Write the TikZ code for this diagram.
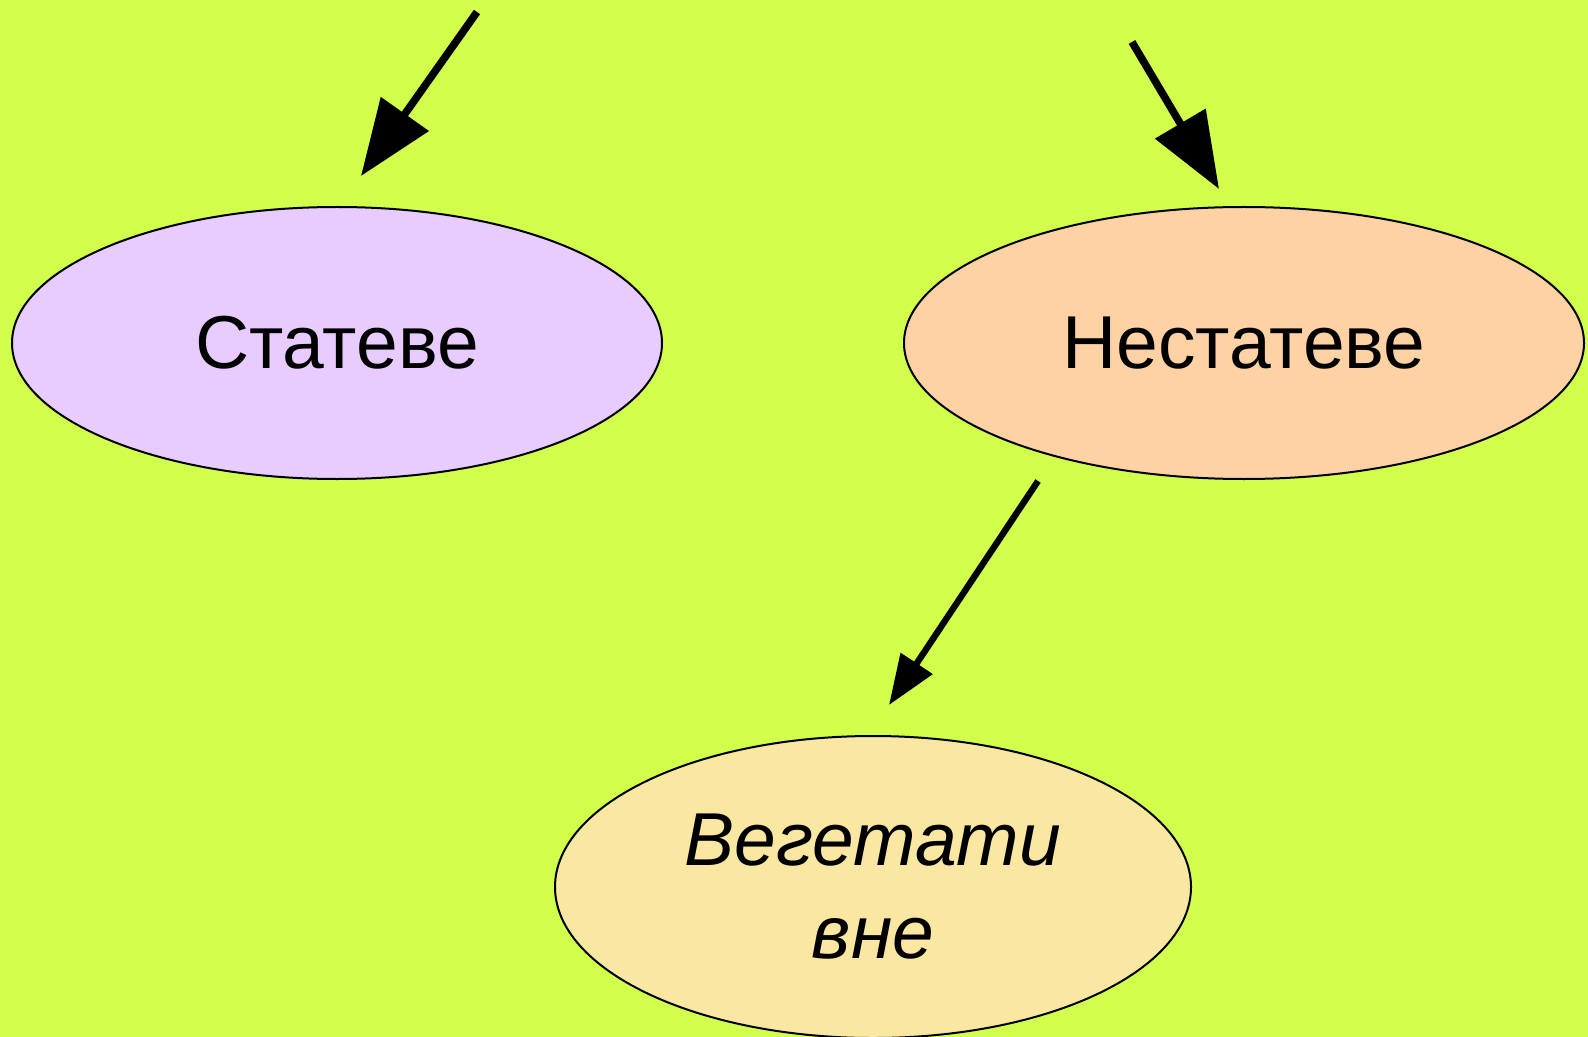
\documentclass[tikz,border=0pt]{standalone}
\usepackage{fontspec}
\setmainfont{Liberation Sans}
\usetikzlibrary{arrows.meta}
\usetikzlibrary{shapes.geometric}
\definecolor{lime}{HTML}{D2FF4B}
\definecolor{lilac}{HTML}{E8CCFF}
\definecolor{peach}{HTML}{FFD2A5}
\definecolor{cream}{HTML}{FAE8A2}
\tikzset{oval/.style={ellipse,draw=black,line width=1pt,inner sep=0pt,font=\fontsize{37.5}{46.5}\selectfont},
	bigarrow/.style={line width=3.8pt,-{Triangle[length=38pt,width=28.5pt]}}}

\begin{document}
\begin{tikzpicture}[x=0.5pt,y=-0.5pt]
			\fill[lime] (0,0) rectangle (1588,1037);
			\useasboundingbox (0,0) rectangle (1588,1037);

			\node[oval,fill=lilac,minimum width=325pt,minimum height=136pt] (stat) at (337,343) {Статеве};
			\node[oval,fill=peach,minimum width=340pt,minimum height=136pt] (nestat) at (1244,343) {Нестатеве};
			\node[oval,fill=cream,minimum width=318pt,minimum height=151pt,align=center] (veg) at (873,887) {\itshape Вегетати\\\itshape вне};

			\coordinate (in1) at (477,12);
			\coordinate (out1) at (361,176);
			\coordinate (in2) at (1132,42);
			\coordinate (out2) at (1219,189);
			\coordinate (in3) at (1038,481);
			\coordinate (out3) at (889,705);

			\draw[bigarrow] (in1) -- (out1);
			\draw[bigarrow] (in2) -- (out2);
			\draw[bigarrow,line width=3.2pt,-{Triangle[length=25pt,width=18.5pt]}] (in3) -- (out3);
		\end{tikzpicture}
\end{document}
